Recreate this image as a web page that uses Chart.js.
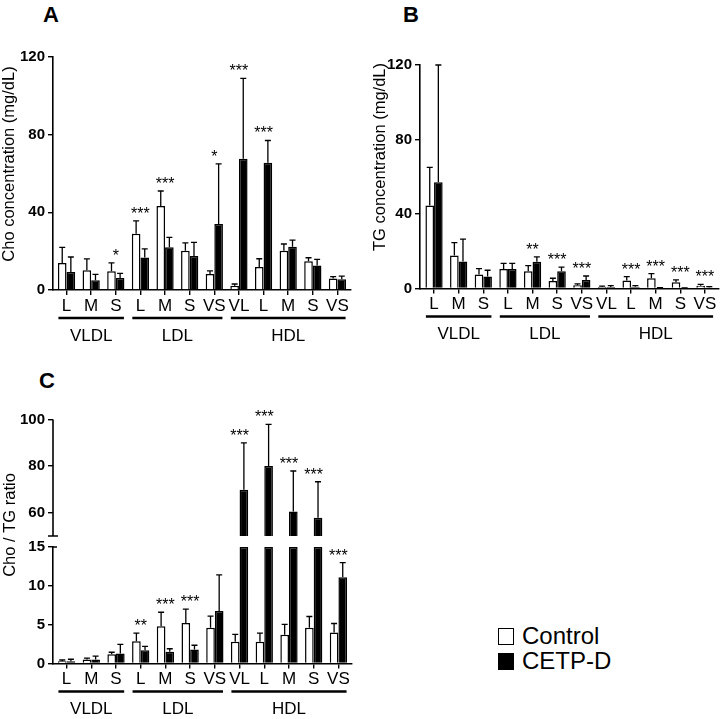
<!DOCTYPE html>
<html><head><meta charset="utf-8">
<script src="https://cdn.jsdelivr.net/npm/chart.js@4.4.1/dist/chart.umd.min.js"></script>
<style>
html,body{margin:0;padding:0;background:#fff;width:723px;height:719px;overflow:hidden;font-family:'Liberation Sans',Arial,sans-serif;color:#000;}
canvas{position:absolute;}
.pl{position:absolute;font-weight:bold;font-size:22px;line-height:22px;}
.lgbox{position:absolute;left:498px;width:16px;height:17px;box-sizing:border-box;border:1.5px solid #000;}
.lgtxt{position:absolute;left:522px;font-size:24px;line-height:24px;white-space:nowrap;}
</style></head>
<body>
<div class="pl" style="left:43px;top:4px">A</div>
<div class="pl" style="left:403px;top:4px">B</div>
<div class="pl" style="left:39px;top:370px">C</div>
<canvas id="cA" width="360" height="350" style="left:0;top:0"></canvas>
<canvas id="cB" width="363" height="350" style="left:360px;top:0"></canvas>
<canvas id="cC" width="460" height="369" style="left:0;top:350px"></canvas>
<div id="legend"></div>
<script>
// ---------- data ----------
const categories = ['L','M','S','L','M','S','VS','VL','L','M','S','VS'];
const groupNames = ['VLDL','LDL','HDL'];
const groupSizes = [3,4,5];
const seriesNames = ['Control','CETP-D'];

// Panel A: Cho concentration (mg/dL)
const choControl   = [13.9, 10.2, 9.6, 29.0, 43.2, 20.2, 8.2, 2.2, 11.8, 20.2, 14.8, 5.9];
const choControlSD = [8.1, 5.8, 4.4, 6.6, 7.8, 4.1, 1.7, 0.9, 4.3, 3.5, 1.8, 1.0];
const choCETP      = [9.3, 5.0, 6.2, 16.8, 22.0, 17.5, 34.0, 67.6, 65.5, 22.3, 12.6, 5.5];
const choCETPSD    = [7.7, 3.0, 2.4, 4.4, 5.1, 7.0, 31.0, 41.4, 11.5, 3.4, 3.2, 1.6];
const choSig       = ['', '', '*', '***', '***', '', '*', '***', '***', '', '', ''];
const choTicks     = [0, 40, 80, 120];

// Panel B: TG concentration (mg/dL)
const tgControl   = [44.5, 17.7, 7.5, 10.5, 9.2, 4.0, 1.8, 0.8, 4.3, 5.5, 3.3, 1.5];
const tgControlSD = [20.5, 6.9, 3.2, 3.0, 3.1, 1.5, 0.7, 0.5, 2.1, 2.5, 1.3, 0.7];
const tgCETP      = [57.0, 14.5, 6.4, 10.5, 14.3, 9.2, 4.5, 0.8, 1.0, 0.3, 0.2, 0.6];
const tgCETPSD    = [63.0, 12.0, 3.4, 3.0, 2.7, 2.3, 2.2, 0.7, 0.5, 0.2, 0.1, 0.4];
const tgSig       = ['', '', '', '', '**', '***', '***', '', '***', '***', '***', '***'];
const tgTicks     = [0, 40, 80, 120];

// Panel C: Cho / TG ratio (broken axis)
const ratioControl   = [0.3, 0.5, 1.2, 2.85, 4.8, 5.2, 4.6, 2.8, 2.8, 3.7, 4.6, 4.0];
const ratioControlSD = [0.15, 0.2, 0.25, 1.05, 1.8, 1.8, 1.5, 0.95, 1.1, 1.35, 1.45, 1.15];
const ratioCETP      = [0.3, 0.5, 1.3, 1.7, 1.5, 1.8, 6.75, 69.9, 80.1, 60.5, 57.8, 11.1];
const ratioCETPSD    = [0.25, 0.45, 1.15, 0.5, 0.4, 0.55, 4.65, 20.1, 17.8, 17.4, 15.5, 1.9];
const ratioSig       = ['', '', '', '**', '***', '***', '', '***', '***', '***', '***', '***'];
const ratioTicksLow  = [0, 5, 10, 15];
const ratioTicksHigh = [60, 80, 100];
const breakLow = 15, breakHigh = 50;

// ---------- helpers ----------
Chart.defaults.font.family = "'Liberation Sans', Arial, sans-serif";
Chart.defaults.color = '#000';
const FONT = "'Liberation Sans', Arial, sans-serif";

function xScale(min, max, h) {
  return {
    type: 'linear', min, max, offset: false,
    grid: {display: true, offset: false, drawOnChartArea: false, drawTicks: true, tickLength: 5, color: '#000', lineWidth: 1.4},
    border: {display: true, color: '#000', width: 1.6},
    ticks: {autoSkip: false, maxRotation: 0, minRotation: 0, padding: 1, font: {size: 17}, color: '#000',
            callback: (v) => categories[v] ?? ''},
    afterBuildTicks: s => { s.ticks = categories.map((_, i) => ({value: i})); },
    afterFit: s => { s.height = h; }
  };
}
function yScale(min, max, ticks, w, extra) {
  return Object.assign({
    type: 'linear', min, max, stacked: false, position: 'left',
    grid: {display: true, drawOnChartArea: false, drawTicks: true, tickLength: 5, color: '#000', lineWidth: 1.4},
    border: {display: true, color: '#000', width: 1.6},
    ticks: {font: {size: 15, weight: 'bold'}, padding: 3, color: '#000'},
    afterBuildTicks: s => { s.ticks = ticks.map(v => ({value: v})); },
    afterFit: s => { s.width = w; }
  }, extra || {});
}
function pts(vals) { return vals.map((v, i) => ({x: i, y: v})); }

const annotPlugin = {
  id: 'annot',
  afterDatasetsDraw(chart, args, o) {
    const ctx = chart.ctx, xs = chart.scales.x;
    ctx.save();
    ctx.strokeStyle = '#000'; ctx.lineWidth = 1.3;
    const minPix = categories.map(() => Infinity);
    o.series.forEach(s => {
      const meta = chart.getDatasetMeta(s.dataset);
      s.values.forEach((v, i) => {
        const el = meta.data[i];
        const sc = o.scaleFor(chart, v);
        const y0 = sc.getPixelForValue(v), y1 = sc.getPixelForValue(v + s.sd[i]);
        ctx.beginPath();
        ctx.moveTo(el.x, y0); ctx.lineTo(el.x, y1);
        ctx.moveTo(el.x - 3, y1); ctx.lineTo(el.x + 3, y1);
        ctx.stroke();
        minPix[i] = Math.min(minPix[i], y1);
      });
    });
    ctx.fillStyle = '#000';
    ctx.font = '16px ' + FONT;
    ctx.textAlign = 'center'; ctx.textBaseline = 'alphabetic';
    o.sig.forEach((t, i) => { if (t) ctx.fillText(t, xs.getPixelForValue(i), minPix[i] - 2); });
    ctx.restore();
  },
  afterDraw(chart, args, o) {
    const ctx = chart.ctx, xs = chart.scales.x, ca = chart.chartArea;
    const sp = xs.getPixelForValue(1) - xs.getPixelForValue(0);
    ctx.save();
    ctx.fillStyle = '#000'; ctx.strokeStyle = '#000';
    let start = 0;
    groupNames.forEach((g, k) => {
      const end = start + groupSizes[k] - 1;
      const x1 = xs.getPixelForValue(start) - sp * 0.33, x2 = xs.getPixelForValue(end) + sp * 0.33;
      ctx.lineWidth = 2.5;
      ctx.beginPath(); ctx.moveTo(x1, ca.bottom + 28); ctx.lineTo(x2, ca.bottom + 28); ctx.stroke();
      ctx.font = '17px ' + FONT; ctx.textAlign = 'center'; ctx.textBaseline = 'middle';
      ctx.fillText(g, (x1 + x2) / 2, ca.bottom + 46);
      start = end + 1;
    });
    // y axis title
    ctx.translate(o.title.x, o.title.y);
    ctx.rotate(-Math.PI / 2);
    ctx.font = '16.5px ' + FONT; ctx.textAlign = 'center'; ctx.textBaseline = 'middle';
    ctx.fillText(o.title.text, 0, 0);
    ctx.restore();
    if (o.broken) {
      const hi = chart.scales.yHi, lo = chart.scales.yLo, x = ca.left;
      ctx.save(); ctx.strokeStyle = '#000';
      ctx.lineWidth = 1.6;
      ctx.beginPath();
      ctx.moveTo(x, hi.getPixelForValue(breakHigh)); ctx.lineTo(x, hi.getPixelForValue(hi.max));
      ctx.stroke();
      ctx.lineWidth = 1.4;
      ctx.beginPath();
      ctx.moveTo(x - 5, hi.getPixelForValue(breakHigh)); ctx.lineTo(x + 5, hi.getPixelForValue(breakHigh));
      ctx.moveTo(x, lo.getPixelForValue(breakLow)); ctx.lineTo(x + 4, lo.getPixelForValue(breakLow));
      ctx.stroke();
      ctx.restore();
    }
  }
};

const barCommon = {borderColor: '#000', borderWidth: 1.5, categoryPercentage: 0.7, barPercentage: 1.0};
const baseOpts = {responsive: false, animation: false, devicePixelRatio: 1, events: []};

function simpleChart(id, ctrl, ctrlSD, cetp, cetpSD, sig, ticks, geom, title) {
  return new Chart(document.getElementById(id), {
    type: 'bar',
    data: {datasets: [
      Object.assign({label: seriesNames[0], data: pts(ctrl), backgroundColor: '#fff'}, barCommon),
      Object.assign({label: seriesNames[1], data: pts(cetp), backgroundColor: '#000'}, barCommon)
    ]},
    options: Object.assign({}, baseOpts, {
      layout: {padding: {top: geom.top, right: geom.right, bottom: 0, left: 0}},
      scales: {x: xScale(geom.xmin, geom.xmax, geom.xh), y: yScale(0, 120, ticks, geom.yw)},
      plugins: {legend: {display: false}, tooltip: {enabled: false},
        annot: {series: [{dataset: 0, values: ctrl, sd: ctrlSD}, {dataset: 1, values: cetp, sd: cetpSD}],
                sig, scaleFor: (c) => c.scales.y, title}}
    }),
    plugins: [annotPlugin]
  });
}

simpleChart('cA', choControl, choControlSD, choCETP, choCETPSD, choSig, choTicks,
  {top: 57, right: 9, xh: 60, yw: 53, xmin: -0.55, xmax: 11.55},
  {text: 'Cho concentration (mg/dL)', x: 9.5, y: 164});
simpleChart('cB', tgControl, tgControlSD, tgCETP, tgCETPSD, tgSig, tgTicks,
  {top: 65, right: 4, xh: 61.5, yw: 60, xmin: -0.57, xmax: 11.57},
  {text: 'TG concentration (mg/dL)', x: 20.5, y: 157});

new Chart(document.getElementById('cC'), {
  type: 'bar',
  data: {datasets: [
    Object.assign({label: seriesNames[0], data: pts(ratioControl), backgroundColor: '#fff', yAxisID: 'yLo', stack: 'ctrl'}, barCommon),
    Object.assign({label: seriesNames[1], data: ratioCETP.map((v, i) => ({x: i, y: Math.min(v, breakLow)})), backgroundColor: '#000', yAxisID: 'yLo', stack: 'cetp'}, barCommon),
    Object.assign({label: seriesNames[1] + ' (upper)', data: ratioCETP.map((v, i) => ({x: i, y: v > breakLow ? [breakHigh, v] : null})), backgroundColor: '#000', yAxisID: 'yHi', stack: 'cetp'}, barCommon)
  ]},
  options: Object.assign({}, baseOpts, {
    layout: {padding: {top: 69.5, right: 108, bottom: 0, left: 0}},
    scales: {
      x: xScale(-0.55, 11.55, 55.5),
      yHi: yScale(45.3, 100, ratioTicksHigh, 53, {stack: 'c', stackWeight: 127.5, weight: 2, border: {display: false}}),
      yLo: yScale(0, breakLow, ratioTicksLow, 53, {stack: 'c', stackWeight: 116.5, weight: 1})
    },
    plugins: {legend: {display: false}, tooltip: {enabled: false},
      annot: {series: [{dataset: 0, values: ratioControl, sd: ratioControlSD}, {dataset: 1, values: ratioCETP, sd: ratioCETPSD}],
              sig: ratioSig, scaleFor: (c, v) => v > breakLow ? c.scales.yHi : c.scales.yLo,
              title: {text: 'Cho / TG ratio', x: 10, y: 175}, broken: true}}
  }),
  plugins: [annotPlugin]
});

// legend
const leg = document.getElementById('legend');
const legColors = ['#fff', '#000'];
const legCenters = [636, 661];
seriesNames.forEach((n, i) => {
  const b = document.createElement('div');
  b.className = 'lgbox'; b.style.top = (legCenters[i] - 8.5) + 'px'; b.style.background = legColors[i];
  const t = document.createElement('div');
  t.className = 'lgtxt'; t.style.top = (legCenters[i] - 12) + 'px'; t.textContent = n;
  leg.appendChild(b); leg.appendChild(t);
});
</script>
</body></html>
